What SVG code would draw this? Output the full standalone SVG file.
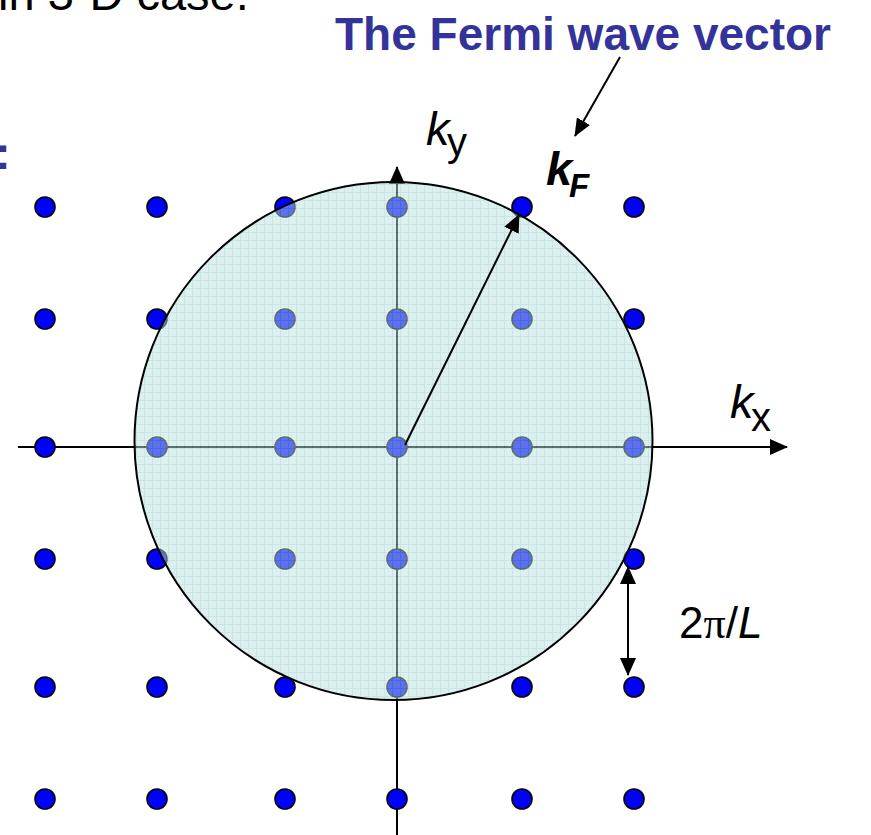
<svg xmlns="http://www.w3.org/2000/svg" width="871" height="835" viewBox="0 0 871 835">
  <style>
    .axis { stroke: #000; stroke-width: 2; fill: none; }
    .conn { stroke: #000; stroke-width: 2; fill: none; }
    .dot { fill: #0000ff; stroke: #000; stroke-width: 1.6; }
    .sans { font-family: "Liberation Sans", Arial, sans-serif; }
    .title { font-family: "Liberation Sans", Arial, sans-serif; font-weight: bold; fill: #333399; }
  </style>
  <defs>
    <marker id="ah" markerUnits="userSpaceOnUse" markerWidth="18" markerHeight="16" viewBox="0 0 18 16" refX="17" refY="8" orient="auto-start-reverse">
      <path d="M0,0 L18,8 L0,16 z" fill="#000"/>
    </marker>
    <marker id="ahs" markerUnits="userSpaceOnUse" markerWidth="18" markerHeight="15" viewBox="0 0 18 15" refX="17" refY="7.5" orient="auto-start-reverse">
      <path d="M0,0 L18,7.5 L0,15 z" fill="#000"/>
    </marker>
    <pattern id="grid" width="8" height="8" patternUnits="userSpaceOnUse">
      <rect width="8" height="8" fill="#b9e1e1"/>
      <path d="M0,0.5H8M0.5,0V8" stroke="#93cccc" stroke-width="1"/>
    </pattern>
  </defs>

  <!-- header texts (cut off) -->
  <text class="sans" x="-2" y="10" font-size="47" fill="#000">in 3-D case.</text>
  <text class="title" x="-5" y="169" font-size="47">:</text>

  <!-- axes -->
  <g id="axes">
    <line class="axis" x1="18" y1="447" x2="787" y2="447" marker-end="url(#ah)"/>
    <line class="axis" x1="397" y1="840" x2="397" y2="167" marker-end="url(#ah)"/>
  </g>

  <!-- lattice points -->
  <g id="lattice">
    <circle class="dot" cx="45" cy="207" r="10"/>
    <circle class="dot" cx="157" cy="207" r="10"/>
    <circle class="dot" cx="285" cy="207" r="10"/>
    <circle class="dot" cx="397" cy="207" r="10"/>
    <circle class="dot" cx="522" cy="207" r="10"/>
    <circle class="dot" cx="634" cy="207" r="10"/>

    <circle class="dot" cx="45" cy="319" r="10"/>
    <circle class="dot" cx="157" cy="319" r="10"/>
    <circle class="dot" cx="285" cy="319" r="10"/>
    <circle class="dot" cx="397" cy="319" r="10"/>
    <circle class="dot" cx="522" cy="319" r="10"/>
    <circle class="dot" cx="634" cy="319" r="10"/>

    <circle class="dot" cx="45" cy="447" r="10"/>
    <circle class="dot" cx="157" cy="447" r="10"/>
    <circle class="dot" cx="285" cy="447" r="10"/>
    <circle class="dot" cx="397" cy="447" r="10"/>
    <circle class="dot" cx="522" cy="447" r="10"/>
    <circle class="dot" cx="634" cy="447" r="10"/>

    <circle class="dot" cx="45" cy="559" r="10"/>
    <circle class="dot" cx="157" cy="559" r="10"/>
    <circle class="dot" cx="285" cy="559" r="10"/>
    <circle class="dot" cx="397" cy="559" r="10"/>
    <circle class="dot" cx="522" cy="559" r="10"/>
    <circle class="dot" cx="634" cy="559" r="10"/>

    <circle class="dot" cx="45" cy="687" r="10"/>
    <circle class="dot" cx="157" cy="687" r="10"/>
    <circle class="dot" cx="285" cy="687" r="10"/>
    <circle class="dot" cx="397" cy="687" r="10"/>
    <circle class="dot" cx="522" cy="687" r="10"/>
    <circle class="dot" cx="634" cy="687" r="10"/>

    <circle class="dot" cx="45" cy="799" r="10"/>
    <circle class="dot" cx="157" cy="799" r="10"/>
    <circle class="dot" cx="285" cy="799" r="10"/>
    <circle class="dot" cx="397" cy="799" r="10"/>
    <circle class="dot" cx="522" cy="799" r="10"/>
    <circle class="dot" cx="634" cy="799" r="10"/>
  </g>

  <!-- Fermi sphere -->
  <g id="fermi-circle">
    <circle cx="393.5" cy="441" r="259" fill="url(#grid)" fill-opacity="0.5" stroke="#000" stroke-width="2"/>
  </g>

  <!-- connectors -->
  <g id="connectors">
    <line class="conn" x1="405" y1="445" x2="519" y2="215" marker-end="url(#ah)"/>
    <line class="conn" x1="620" y1="57" x2="575" y2="136" marker-end="url(#ahs)"/>
    <line class="conn" x1="628" y1="567" x2="628" y2="675" marker-start="url(#ah)" marker-end="url(#ah)"/>
  </g>

  <!-- labels -->
  <g id="label-title">
    <text class="title" x="335" y="50" font-size="46">The Fermi wave vector</text>
  </g>
  <g id="label-ky">
    <text class="sans" x="426" y="145" font-size="47" font-style="italic">k</text>
    <text class="sans" x="447" y="156" font-size="40">y</text>
  </g>
  <g id="label-kx">
    <text class="sans" x="730" y="418" font-size="47" font-style="italic">k</text>
    <text class="sans" x="751" y="431" font-size="40">x</text>
  </g>
  <g id="label-kf">
    <text class="sans" x="546" y="185" font-size="47" font-weight="bold" font-style="italic">k</text>
    <text class="sans" x="569" y="197" font-size="33" font-weight="bold" font-style="italic">F</text>
  </g>
  <g id="label-2piL">
    <text x="679" y="638" font-size="44"><tspan class="sans">2</tspan><tspan font-family="'Liberation Serif', serif">π</tspan><tspan class="sans">/</tspan><tspan class="sans" font-style="italic">L</tspan></text>
  </g>
</svg>
